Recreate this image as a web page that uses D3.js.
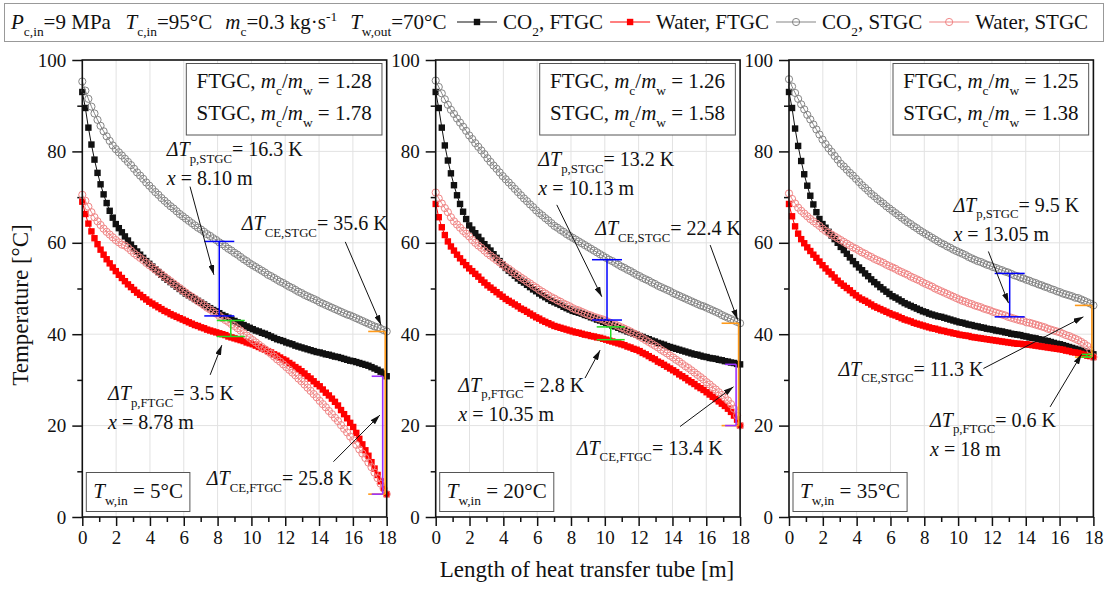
<!DOCTYPE html>
<html>
<head>
<meta charset="utf-8">
<script src="https://cdn.jsdelivr.net/npm/d3@7"></script>
<style>
  body { margin: 0; background: #fff; }
  svg text { font-family: "Liberation Serif", "Times New Roman", serif; fill: #111; }
</style>
</head>
<body>
<svg id="chart" width="1109" height="595"></svg>
<script>
// tube length positions [m]
var lengthM = [0,0.18,0.36,0.54,0.72,0.9,1.08,1.26,1.44,1.62,1.8,1.98,2.16,2.34,2.52,2.7,2.88,3.06,3.24,3.42,3.6,3.78,3.96,4.14,4.32,4.5,4.68,4.86,5.04,5.22,5.4,5.58,5.76,5.94,6.12,6.3,6.48,6.66,6.84,7.02,7.2,7.38,7.56,7.74,7.92,8.1,8.28,8.46,8.64,8.82,9,9.18,9.36,9.54,9.72,9.9,10.08,10.26,10.44,10.62,10.8,10.98,11.16,11.34,11.52,11.7,11.88,12.06,12.24,12.42,12.6,12.78,12.96,13.14,13.32,13.5,13.68,13.86,14.04,14.22,14.4,14.58,14.76,14.94,15.12,15.3,15.48,15.66,15.84,16.02,16.2,16.38,16.56,16.74,16.92,17.1,17.28,17.46,17.64,17.82,18];

// Tw,in = 5 C
var co2Ftgc5 = [93,89.5,85.2,81.5,78.2,75.3,72.8,70.6,68.7,67.0,65.5,64.1,63.2,62.3,61.4,60.5,59.6,58.8,58.1,57.4,56.7,56.0,55.4,54.8,54.2,53.6,53.0,52.4,51.9,51.4,50.9,50.4,49.9,49.4,48.9,48.5,48.1,47.7,47.3,46.9,46.5,46.1,45.7,45.3,45.0,44.6,44.2,43.9,43.6,43.2,42.9,42.6,42.3,42.0,41.7,41.4,41.1,40.8,40.6,40.3,40.1,39.8,39.5,39.2,38.9,38.7,38.5,38.2,38.0,37.8,37.5,37.3,37.1,36.9,36.7,36.5,36.3,36.1,36.0,35.8,35.6,35.5,35.3,35.1,35.0,34.8,34.6,34.4,34.2,34.1,33.9,33.7,33.5,33.3,33.1,32.8,32.5,32.2,31.8,31.4,30.8];
var waterFtgc5 = [69.0,66.3,64.2,62.5,61.0,59.7,58.5,57.4,56.4,55.5,54.6,53.8,53.0,52.3,51.6,50.9,50.3,49.7,49.1,48.6,48.1,47.6,47.1,46.7,46.3,45.9,45.5,45.1,44.8,44.4,44.1,43.8,43.5,43.2,42.9,42.6,42.3,42.0,41.8,41.5,41.3,41.0,40.8,40.6,40.4,40.2,40.0,39.8,39.5,39.3,39.1,38.9,38.7,38.5,38.2,38.0,37.8,37.5,37.2,36.9,36.6,36.3,36.0,35.6,35.3,34.9,34.5,34.2,33.7,33.3,32.8,32.4,31.9,31.4,30.8,30.3,29.7,29.1,28.6,27.9,27.2,26.6,25.9,25.2,24.4,23.4,22.5,21.6,20.6,19.7,18.4,17.1,15.9,14.6,13.4,12.0,10.6,9.2,7.8,6.4,5.0];
var co2Stgc5 = [95.3,93.3,91.5,89.8,88.3,86.9,85.6,84.4,83.3,82.3,81.3,80.5,79.8,79.1,78.4,77.7,77.0,76.2,75.4,74.7,74.0,73.2,72.5,71.8,71.1,70.5,69.8,69.2,68.6,68.0,67.5,66.9,66.3,65.8,65.3,64.8,64.3,63.8,63.3,62.9,62.4,61.9,61.5,61.0,60.6,60.1,59.7,59.2,58.7,58.3,57.8,57.4,56.9,56.4,56.0,55.5,55.1,54.7,54.3,53.9,53.5,53.0,52.7,52.3,51.9,51.5,51.2,50.8,50.4,50.1,49.7,49.3,49.0,48.6,48.3,48.0,47.7,47.4,47.0,46.7,46.4,46.1,45.8,45.5,45.2,44.9,44.6,44.3,44.1,43.8,43.5,43.2,42.9,42.6,42.3,42.0,41.7,41.5,41.2,40.9,40.6];
var waterStgc5 = [70.5,69.2,67.9,66.7,65.6,64.7,63.9,63.1,62.4,61.8,61.2,60.6,60.1,59.6,59.4,58.9,58.3,57.7,57.2,56.7,56.2,55.6,55.1,54.6,54.1,53.6,53.1,52.6,52.1,51.6,51.1,50.6,50.1,49.6,49.1,48.6,48.2,47.7,47.2,46.8,46.3,45.8,45.4,44.9,44.5,44.0,43.5,43.1,42.7,42.2,41.8,41.3,40.8,40.2,39.7,39.2,38.7,38.2,37.7,37.2,36.7,36.2,35.7,35.1,34.5,34.0,33.4,32.8,32.2,31.6,31.0,30.3,29.7,29.0,28.3,27.6,26.9,26.2,25.4,24.7,24.0,23.2,22.5,21.7,21.0,20.1,19.3,18.5,17.6,16.8,15.8,14.8,13.9,12.9,11.9,10.9,9.7,8.5,7.3,6.2,5.0];

// Tw,in = 20 C
var co2Ftgc20 = [93,89.5,85.2,81.3,78.0,75.2,72.6,70.4,68.5,66.8,65.2,63.8,62.9,62.1,61.3,60.5,59.7,59.0,58.3,57.5,56.7,56.0,55.2,54.5,53.9,53.4,52.8,52.2,51.7,51.3,50.8,50.3,49.8,49.4,48.9,48.5,48.1,47.7,47.3,47.0,46.7,46.4,46.0,45.7,45.4,45.1,44.9,44.7,44.5,44.2,44.0,43.7,43.5,43.2,43.0,42.7,42.5,42.2,41.9,41.7,41.4,41.1,40.9,40.6,40.4,40.1,39.9,39.6,39.4,39.1,38.9,38.6,38.4,38.1,37.9,37.7,37.4,37.2,37.0,36.8,36.6,36.4,36.2,36.0,35.8,35.6,35.5,35.3,35.1,35.0,34.8,34.7,34.6,34.4,34.3,34.1,34.0,33.8,33.7,33.5,33.4];
var waterFtgc20 = [68.5,65.6,63.4,61.7,60.3,59.2,58.3,57.4,56.6,55.8,55.1,54.4,53.8,53.2,52.6,51.9,51.3,50.7,50.2,49.7,49.2,48.7,48.2,47.7,47.3,46.9,46.5,46.1,45.6,45.3,44.9,44.5,44.1,43.7,43.4,43.0,42.7,42.4,42.1,41.8,41.6,41.4,41.2,41.0,40.8,40.6,40.4,40.3,40.1,39.9,39.8,39.6,39.5,39.3,39.2,39.0,38.8,38.6,38.4,38.2,38.0,37.8,37.6,37.3,37.1,36.8,36.6,36.3,35.9,35.6,35.2,34.8,34.5,34.0,33.7,33.3,32.9,32.5,32.1,31.7,31.2,30.8,30.4,29.9,29.5,29.1,28.6,28.2,27.8,27.3,26.8,26.3,25.8,25.3,24.8,24.3,23.7,23.0,22.2,21.3,20.0];
var co2Stgc20 = [95.5,94.1,92.7,91.4,90.2,89.1,88.2,87.2,86.3,85.4,84.5,83.5,82.7,81.8,81.0,80.2,79.4,78.5,77.7,76.9,76.2,75.4,74.6,73.9,73.2,72.5,71.8,71.1,70.4,69.7,69.1,68.4,67.8,67.1,66.5,66.0,65.4,64.9,64.3,63.7,63.3,62.8,62.4,61.9,61.5,61.1,60.7,60.3,59.9,59.5,59.1,58.7,58.3,57.9,57.5,57.1,56.7,56.3,56.0,55.6,55.2,54.8,54.5,54.1,53.8,53.4,53.0,52.7,52.3,52.0,51.7,51.3,51.0,50.6,50.3,50.0,49.7,49.4,49.0,48.7,48.4,48.1,47.8,47.5,47.2,46.9,46.6,46.3,46.1,45.8,45.5,45.2,44.9,44.6,44.2,43.9,43.6,43.3,43.0,42.7,42.4];
var waterStgc20 = [71.0,69.7,68.6,67.6,66.7,65.6,64.7,64.0,63.3,62.6,62.0,61.4,60.6,60.0,59.4,58.9,58.3,57.7,57.2,56.7,56.2,55.7,55.2,54.7,54.3,53.8,53.3,52.9,52.4,52.0,51.5,51.1,50.6,50.2,49.7,49.3,48.9,48.5,48.1,47.8,47.4,47.1,46.7,46.4,46.1,45.7,45.4,45.2,44.9,44.6,44.3,44.1,43.8,43.6,43.4,43.2,42.9,42.6,42.3,42.1,41.8,41.5,41.2,40.9,40.6,40.2,39.9,39.5,39.1,38.7,38.3,37.9,37.5,37.1,36.6,36.2,35.8,35.3,34.9,34.4,34.0,33.5,33.0,32.6,32.1,31.6,31.1,30.6,30.1,29.5,29.0,28.4,27.9,27.3,26.7,26.1,25.5,24.7,23.7,22.2,20.0];

// Tw,in = 35 C
var co2Ftgc35 = [93,89.5,85.0,81.2,77.9,75.0,72.5,70.3,68.4,66.7,65.2,64.1,63.3,62.4,61.6,60.8,60.0,59.1,58.4,57.6,56.8,56.0,55.3,54.6,54.0,53.3,52.7,52.0,51.4,50.9,50.3,49.8,49.3,48.8,48.3,48.0,47.6,47.2,46.8,46.5,46.2,45.9,45.6,45.3,45.0,44.8,44.5,44.3,44.1,43.9,43.8,43.6,43.4,43.2,43.0,42.8,42.6,42.5,42.3,42.1,42.0,41.8,41.7,41.5,41.4,41.2,41.1,41.0,40.8,40.7,40.6,40.4,40.3,40.1,40.0,39.9,39.8,39.6,39.5,39.3,39.2,39.1,38.9,38.8,38.6,38.5,38.3,38.1,37.9,37.8,37.6,37.4,37.2,37.0,36.8,36.6,36.4,36.2,36.0,35.8,35.6];
var waterFtgc35 = [68.5,65.8,63.6,62.0,60.8,59.9,59.0,58.2,57.4,56.7,55.9,55.1,54.4,53.7,53.1,52.4,51.7,51.1,50.6,50.1,49.6,49.0,48.5,48.0,47.6,47.3,46.9,46.5,46.1,45.8,45.5,45.2,44.9,44.6,44.3,44.1,43.8,43.5,43.2,43.0,42.8,42.5,42.3,42.1,41.9,41.7,41.5,41.3,41.2,41.0,40.8,40.7,40.5,40.4,40.2,40.1,39.9,39.8,39.7,39.6,39.4,39.3,39.2,39.1,39.0,38.9,38.8,38.7,38.6,38.5,38.4,38.3,38.2,38.1,38.0,37.9,37.9,37.8,37.8,37.7,37.6,37.5,37.4,37.3,37.2,37.1,37.0,36.9,36.8,36.7,36.6,36.4,36.3,36.1,36.0,35.9,35.7,35.5,35.3,35.2,35.0];
var co2Stgc35 = [95.8,94.2,92.8,91.5,90.3,89.2,88.0,87.0,85.9,84.8,83.7,82.6,81.6,80.7,79.9,79.0,78.2,77.3,76.7,76.0,75.3,74.7,74.0,73.3,72.6,72.0,71.4,70.7,70.2,69.6,69.1,68.6,68.0,67.5,67.0,66.5,66.0,65.5,65.0,64.5,64.1,63.6,63.2,62.7,62.3,61.9,61.5,61.1,60.7,60.3,59.9,59.6,59.2,58.9,58.5,58.2,57.9,57.6,57.3,56.9,56.6,56.3,56.0,55.8,55.5,55.2,55.0,54.7,54.5,54.2,54.0,53.7,53.5,53.2,52.9,52.7,52.4,52.2,51.9,51.7,51.4,51.2,50.9,50.7,50.4,50.2,49.9,49.7,49.4,49.2,48.9,48.7,48.5,48.3,48.0,47.9,47.6,47.3,47.0,46.7,46.3];
var waterStgc35 = [70.8,69.6,68.6,67.7,67.0,66.4,65.8,65.2,64.7,64.2,63.7,63.1,62.6,62.2,61.8,61.4,61.0,60.6,60.2,59.8,59.4,59.0,58.7,58.3,57.9,57.6,57.2,56.9,56.5,56.2,55.9,55.6,55.2,54.9,54.6,54.3,53.9,53.6,53.3,53.0,52.6,52.3,52.0,51.7,51.3,51.0,50.7,50.4,50.0,49.7,49.4,49.1,48.8,48.5,48.2,47.9,47.6,47.3,47.1,46.8,46.6,46.3,46.1,45.9,45.6,45.4,45.2,44.9,44.7,44.5,44.3,44.1,43.8,43.6,43.4,43.2,43.0,42.9,42.6,42.5,42.3,42.1,41.9,41.7,41.5,41.2,41.0,40.8,40.6,40.4,40.1,39.8,39.6,39.3,39.0,38.7,38.3,37.9,37.4,36.5,35.0];

// per-panel annotation values
var inletTemps = [5, 20, 35];
var ratioFtgc = ["1.28", "1.26", "1.25"];
var ratioStgc = ["1.78", "1.58", "1.38"];
var pinchStgcX = [8.10, 10.13, 13.05];
var pinchStgcLabel = ["8.10", "10.13", "13.05"];
var pinchStgcK = [16.3, 13.2, 9.5];
var pinchStgcTop = [60.3, 56.3, 53.3];
var pinchFtgcX = [8.78, 10.35, 17.6];
var pinchFtgcLabel = ["8.78", "10.35", "18"];
var pinchFtgcK = [3.5, 2.8, 0.6];
var pinchFtgcTop = [43.0, 41.6, 35.6];
var ceStgcK = [35.6, 22.4, 11.3];
var ceFtgcK = [25.8, 13.4, null];

var xTicks = [0, 2, 4, 6, 8, 10, 12, 14, 16, 18];
var yTicks = [0, 20, 40, 60, 80, 100];

var panelData = [
  [co2Ftgc5, waterFtgc5, co2Stgc5, waterStgc5],
  [co2Ftgc20, waterFtgc20, co2Stgc20, waterStgc20],
  [co2Ftgc35, waterFtgc35, co2Stgc35, waterStgc35]
];

// label placement in data units (m, degC) -- layout only
var notes = [
  { pS: [5.0, 79.0], pSA: [[6.37, 72.3], [7.78, 53.0]],
    ceS: [9.43, 62.8], ceSA: [[15.55, 60.2], [17.67, 42.0]],
    pF: [1.52, 25.6], pFA: [[7.56, 31.1], [8.25, 37.6]],
    ceF: [7.36, 7.0], ceFA: [[14.85, 12.1], [17.6, 22.3]] },
  { pS: [6.07, 76.7], pSA: [[7.16, 68.3], [9.82, 48.2]],
    ceS: [9.43, 61.7], ceSA: [[16.23, 59.5], [17.85, 43.2]],
    pF: [1.34, 27.4], pFA: [[8.83, 30.4], [9.72, 36.5]],
    ceF: [8.34, 13.6], ceFA: [[14.45, 19.8], [17.61, 28.5]] },
  { pS: [9.72, 66.8], pSA: [[11.79, 58.1], [12.98, 46.8]],
    ceS: [2.92, 30.9], ceSA: [[11.5, 32.5], [17.41, 43.8]],
    pF: [8.34, 19.8], pFA: [[15.44, 24.1], [17.3, 35.6]],
    ceF: null, ceFA: null }
];

var serif = "'Liberation Serif','Times New Roman',serif";
var svg = d3.select("#chart");

var defs = svg.append("defs");
defs.append("marker")
  .attr("id", "arrow")
  .attr("viewBox", "0 0 10 6")
  .attr("refX", 10)
  .attr("refY", 3)
  .attr("markerWidth", 10)
  .attr("markerHeight", 6)
  .attr("markerUnits", "userSpaceOnUse")
  .attr("orient", "auto")
  .append("path")
  .attr("d", "M0,0 L10,3 L0,6 z")
  .attr("fill", "#111");

// text with italic / subscript / superscript parts
function richText(sel, x, y, parts, size, anchor) {
  var t = sel.append("text")
    .attr("x", x)
    .attr("y", y)
    .attr("font-size", size)
    .attr("text-anchor", anchor || "start");
  var shift = 0;
  parts.forEach(function(p) {
    var target = p.sub ? size * 0.33 : (p.sup ? -size * 0.38 : 0);
    var s = t.append("tspan").text(p.t).attr("dy", target - shift);
    shift = target;
    if (p.sub || p.sup) s.attr("font-size", size * 0.64);
    if (p.i) s.attr("font-style", "italic");
  });
  return t;
}

var styles = [
  { color: "#111", shape: "square", fill: "#111" },
  { color: "#ff0000", shape: "square", fill: "#ff0000" },
  { color: "#858585", shape: "circle", fill: "none" },
  { color: "#f08585", shape: "circle", fill: "none" }
];

function drawMarker(g, cx, cy, st) {
  if (st.shape === "square") {
    g.append("rect")
      .attr("x", cx - 3.2).attr("y", cy - 3.2)
      .attr("width", 6.4).attr("height", 6.4)
      .attr("fill", st.fill);
  } else {
    g.append("circle")
      .attr("cx", cx).attr("cy", cy).attr("r", 3.6)
      .attr("fill", "none")
      .attr("stroke", st.color)
      .attr("stroke-width", 1);
  }
}

// ---------- legend ----------
var legend = svg.append("g");
legend.append("rect")
  .attr("x", 4.5).attr("y", 3.5)
  .attr("width", 1099).attr("height", 38)
  .attr("fill", "none").attr("stroke", "#999");

var lgY = 29, lgSize = 21;
var conditions = [
  [{t: "P", i: true}, {t: "c,in", sub: true}, {t: "=9 MPa"}],
  [{t: "T", i: true}, {t: "c,in", sub: true}, {t: "=95°C"}],
  [{t: "m", i: true}, {t: "c", sub: true}, {t: "=0.3 kg·s"}, {t: "-1", sup: true}],
  [{t: "T", i: true}, {t: "w,out", sub: true}, {t: "=70°C"}]
];
var cx = 11;
conditions.forEach(function(parts) {
  var t = richText(legend, cx, lgY, parts, lgSize);
  cx += t.node().getBBox().width + 13;
});

var legendLabels = [
  [{t: "CO"}, {t: "2", sub: true}, {t: ", FTGC"}],
  [{t: "Water, FTGC"}],
  [{t: "CO"}, {t: "2", sub: true}, {t: ", STGC"}],
  [{t: "Water, STGC"}]
];
var lx = 457;
legendLabels.forEach(function(label, k) {
  var st = styles[k];
  legend.append("line")
    .attr("x1", lx).attr("x2", lx + 40)
    .attr("y1", 22).attr("y2", 22)
    .attr("stroke", st.color).attr("stroke-width", 1.2);
  drawMarker(legend, lx + 20, 22, st);
  var t = richText(legend, lx + 46, lgY, label, lgSize);
  lx += 46 + t.node().getBBox().width + 7;
});

// ---------- panels ----------
var panelLeft = [82.3, 435.7, 789];
var panelW = 304.4;
var plotTop = 60, plotBottom = 517;

var y = d3.scaleLinear().domain([0, 100]).range([plotBottom, plotTop]);

panelData.forEach(function(series, p) {
  var x0 = panelLeft[p];
  var x = d3.scaleLinear().domain([0, 18]).range([x0, x0 + panelW]);
  var g = svg.append("g");

  // grid
  g.selectAll(".vgrid").data(xTicks.slice(1, -1)).enter().append("line")
    .attr("x1", function(d) { return x(d); }).attr("x2", function(d) { return x(d); })
    .attr("y1", plotTop).attr("y2", plotBottom)
    .attr("stroke", "#e2e2e2").attr("stroke-width", 1);
  g.selectAll(".hgrid").data(yTicks.slice(1, -1)).enter().append("line")
    .attr("x1", x0).attr("x2", x0 + panelW)
    .attr("y1", function(d) { return y(d); }).attr("y2", function(d) { return y(d); })
    .attr("stroke", "#e2e2e2").attr("stroke-width", 1);

  // axes
  g.append("g")
    .attr("transform", "translate(0," + plotBottom + ")")
    .call(d3.axisBottom(x).tickValues(xTicks).tickSize(9).tickPadding(5));
  g.append("g")
    .attr("transform", "translate(0," + plotBottom + ")")
    .call(d3.axisBottom(x).tickValues(d3.range(1, 18, 2)).tickSize(5).tickFormat(""));
  g.append("g")
    .attr("transform", "translate(" + x0 + ",0)")
    .call(d3.axisLeft(y).tickValues(yTicks).tickSize(10).tickPadding(6));
  g.append("g")
    .attr("transform", "translate(" + x0 + ",0)")
    .call(d3.axisLeft(y).tickValues(d3.range(10, 100, 20)).tickSize(5).tickFormat(""));
  g.selectAll(".domain").remove();
  g.selectAll(".tick line").attr("stroke", "#111").attr("stroke-width", 1.5);
  g.selectAll(".tick text").attr("font-size", 19).attr("font-family", serif).attr("fill", "#111");

  // series
  var line = d3.line()
    .x(function(d) { return x(d[0]); })
    .y(function(d) { return y(d[1]); });
  series.forEach(function(vals, k) {
    var st = styles[k];
    var pts = lengthM.slice(0, vals.length).map(function(m, i) { return [m, vals[i]]; });
    g.append("path")
      .datum(pts)
      .attr("d", line)
      .attr("fill", "none")
      .attr("stroke", st.color)
      .attr("stroke-width", 1);
    var mg = g.append("g");
    pts.forEach(function(d) { drawMarker(mg, x(d[0]), y(d[1]), st); });
  });

  // frame
  g.append("rect")
    .attr("x", x0).attr("y", plotTop)
    .attr("width", panelW).attr("height", plotBottom - plotTop)
    .attr("fill", "none").attr("stroke", "#111").attr("stroke-width", 1.6);

  // bars
  function ibar(xm, top, bot, color, half) {
    var bx = x(xm);
    g.append("line").attr("x1", bx).attr("x2", bx).attr("y1", y(top)).attr("y2", y(bot))
      .attr("stroke", color).attr("stroke-width", 1.5);
    [top, bot].forEach(function(v) {
      g.append("line").attr("x1", bx - half).attr("x2", bx + half)
        .attr("y1", y(v)).attr("y2", y(v))
        .attr("stroke", color).attr("stroke-width", 1.5);
    });
  }
  function endBar(top, bot, color, offset, len) {
    var bx = x(18) - offset;
    g.append("line").attr("x1", bx).attr("x2", bx).attr("y1", y(top)).attr("y2", y(bot))
      .attr("stroke", color).attr("stroke-width", 1.6);
    [top, bot].forEach(function(v) {
      g.append("line").attr("x1", bx - len).attr("x2", bx)
        .attr("y1", y(v)).attr("y2", y(v))
        .attr("stroke", color).attr("stroke-width", 1.6);
    });
  }
  var tw = inletTemps[p];
  endBar(tw + ceStgcK[p], tw, "#ff9a1a", 1.5, 17);
  if (ceFtgcK[p] !== null) endBar(tw + ceFtgcK[p], tw, "#9b30ff", 4, 11);
  ibar(pinchStgcX[p], pinchStgcTop[p], pinchStgcTop[p] - pinchStgcK[p], "#0000ff", 15);
  ibar(pinchFtgcX[p], pinchFtgcTop[p], pinchFtgcTop[p] - pinchFtgcK[p], "#22dd22", p === 2 ? 5 : 14);

  // ratio box
  var bx1 = x(6.15), bx2 = x(17.72);
  g.append("rect")
    .attr("x", bx1).attr("y", 63.5)
    .attr("width", bx2 - bx1).attr("height", 71.5)
    .attr("fill", "#fff").attr("stroke", "#555").attr("stroke-width", 1);
  var mid = (bx1 + bx2) / 2;
  richText(g, mid, 88, [{t: "FTGC, "}, {t: "m", i: true}, {t: "c", sub: true}, {t: "/"},
    {t: "m", i: true}, {t: "w", sub: true}, {t: " = " + ratioFtgc[p]}], 21, "middle");
  richText(g, mid, 120, [{t: "STGC, "}, {t: "m", i: true}, {t: "c", sub: true}, {t: "/"},
    {t: "m", i: true}, {t: "w", sub: true}, {t: " = " + ratioStgc[p]}], 21, "middle");

  // inlet temperature box
  var boxRect = g.append("rect")
    .attr("fill", "#fff").attr("stroke", "#555").attr("stroke-width", 1);
  var tb = richText(g, x0 + 11, 498, [{t: "T", i: true}, {t: "w,in", sub: true},
    {t: " = " + inletTemps[p] + "°C"}], 21);
  var bb = tb.node().getBBox();
  boxRect.attr("x", bb.x - 7).attr("y", 472.5)
    .attr("width", bb.width + 14).attr("height", 39);

  // annotations
  var n = notes[p];
  function arrow(a) {
    g.append("line")
      .attr("x1", x(a[0][0])).attr("y1", y(a[0][1]))
      .attr("x2", x(a[1][0])).attr("y2", y(a[1][1]))
      .attr("stroke", "#111").attr("stroke-width", 1)
      .attr("marker-end", "url(#arrow)");
  }
  function dtLabel(pos, sub, k) {
    richText(g, x(pos[0]), y(pos[1]), [{t: "ΔT", i: true}, {t: sub, sub: true},
      {t: "= " + d3.format(".1f")(k) + " K"}], 20);
  }
  function xLabel(pos, lab) {
    richText(g, x(pos[0]), y(pos[1]) + 29, [{t: "x", i: true}, {t: " = " + lab + " m"}], 20);
  }
  dtLabel(n.pS, "p,STGC", pinchStgcK[p]);
  xLabel(n.pS, pinchStgcLabel[p]);
  arrow(n.pSA);
  dtLabel(n.ceS, "CE,STGC", ceStgcK[p]);
  arrow(n.ceSA);
  dtLabel(n.pF, "p,FTGC", pinchFtgcK[p]);
  xLabel(n.pF, pinchFtgcLabel[p]);
  arrow(n.pFA);
  if (n.ceF) {
    dtLabel(n.ceF, "CE,FTGC", ceFtgcK[p]);
    arrow(n.ceFA);
  }
});

// axis titles
svg.append("text")
  .attr("x", 587).attr("y", 577)
  .attr("text-anchor", "middle")
  .attr("font-size", 23)
  .text("Length of heat transfer tube [m]");
svg.append("text")
  .attr("transform", "translate(28,305) rotate(-90)")
  .attr("text-anchor", "middle")
  .attr("font-size", 23)
  .text("Temperature [°C]");
</script>
</body>
</html>
